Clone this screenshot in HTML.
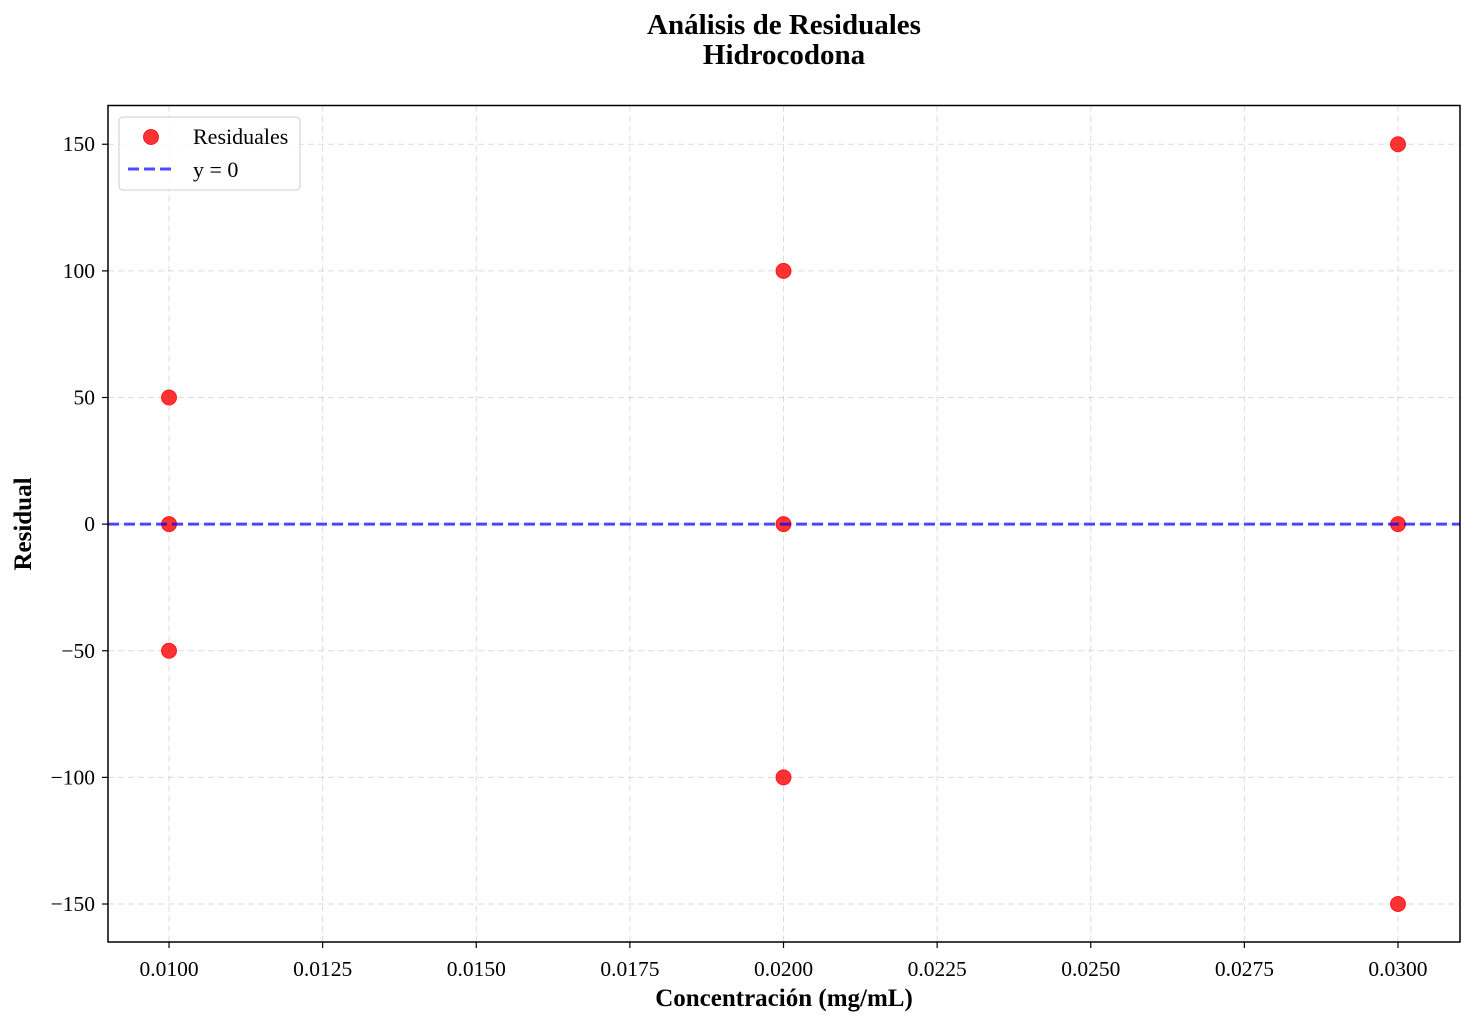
<!DOCTYPE html>
<html><head><meta charset="utf-8"><style>
body{margin:0;background:#fff}
svg text{font-family:"Liberation Serif",serif}
</style></head><body>
<svg id="chart" width="1474" height="1026" xmlns="http://www.w3.org/2000/svg">
<rect width="1474" height="1026" fill="#fff"/>
<text x="784" y="34" text-anchor="middle" font-size="29" font-weight="bold">Análisis de Residuales</text>
<text x="784" y="64" text-anchor="middle" font-size="29" font-weight="bold">Hidrocodona</text>
<g id="grid"></g>
<g id="axes"></g>
<g id="marks"></g>
<rect x="108" y="105.5" width="1352" height="836.5" fill="none" stroke="#000" stroke-width="1.5"/>
<text x="784" y="1006" text-anchor="middle" font-size="25" font-weight="bold">Concentración (mg/mL)</text>
<text transform="translate(31,524) rotate(-90)" text-anchor="middle" font-size="25" font-weight="bold">Residual</text>
<g>
<rect x="119" y="117" width="181" height="73" rx="4" fill="#fff" fill-opacity="0.8" stroke="#ccc"/>
<circle cx="151" cy="137" r="7.5" fill="#ff0000" fill-opacity="0.8" stroke="#ff0000" stroke-opacity="0.8"/>
<text x="193" y="144" font-size="22">Residuales</text>
<line x1="128" y1="169" x2="174" y2="169" stroke="#0000ff" stroke-opacity="0.7" stroke-width="3" stroke-dasharray="11,5"/>
<text x="193" y="177" font-size="22">y = 0</text>
</g>
</svg>
<script>
const xs = [0.01,0.01,0.01,0.02,0.02,0.02,0.03,0.03,0.03];
const residuals = [50,0,-50,100,0,-100,150,0,-150];
const xTicks = [0.01,0.0125,0.015,0.0175,0.02,0.0225,0.025,0.0275,0.03];
const xTickLabels = ["0.0100","0.0125","0.0150","0.0175","0.0200","0.0225","0.0250","0.0275","0.0300"];
const yTicks = [-150,-100,-50,0,50,100,150];
const yTickLabels = ["\u2212150","\u2212100","\u221250","0","50","100","150"];

const L=108,R=1460,T=105.5,B=942;
const xmin=0.009007,xmax=0.031009,ymin=-165.0,ymax=165.3;
const sx=v=>L+(v-xmin)/(xmax-xmin)*(R-L);
const sy=v=>B-(v-ymin)/(ymax-ymin)*(B-T);
const NS="http://www.w3.org/2000/svg";
function mk(tag,attrs,parent){const e=document.createElementNS(NS,tag);for(const k in attrs)e.setAttribute(k,attrs[k]);parent.appendChild(e);return e;}
const grid=document.getElementById('grid'),axes=document.getElementById('axes'),marks=document.getElementById('marks');
xTicks.forEach((t,i)=>{
  const x=sx(t);
  const g=mk('line',{x1:x,x2:x,y1:T,y2:B,stroke:'#b0b0b0','stroke-opacity':0.45,'stroke-dasharray':'6,4'},grid);
  
  
  const tk=mk('line',{x1:x,x2:x,y1:B,y2:B+6,stroke:'#000','stroke-width':1.2},axes);
  
  
  const tx=mk('text',{x:x,y:B+34,'text-anchor':'middle','font-size':21.5},axes);
  tx.textContent=xTickLabels[i];
  
  
});
yTicks.forEach((t,i)=>{
  const y=sy(t);
  const g=mk('line',{x1:L,x2:R,y1:y,y2:y,stroke:'#b0b0b0','stroke-opacity':0.45,'stroke-dasharray':'6,4'},grid);
  
  
  const tk=mk('line',{x1:L-6,x2:L,y1:y,y2:y,stroke:'#000','stroke-width':1.2},axes);
  
  
  const tx=mk('text',{x:L-13,y:y+7,'text-anchor':'end','font-size':21.5},axes);
  tx.textContent=yTickLabels[i];
  
  
});
xs.forEach((v,i)=>{
  const c=mk('circle',{cx:sx(v),cy:sy(residuals[i]),r:7.5,fill:'#ff0000','fill-opacity':0.8,stroke:'#ff0000','stroke-opacity':0.8},marks);
  
  
});
const zl=mk('line',{x1:L,x2:R,y1:sy(0),y2:sy(0),stroke:'#0000ff','stroke-opacity':0.7,'stroke-width':3,'stroke-dasharray':'11,5'},marks);


</script>
</body></html>
